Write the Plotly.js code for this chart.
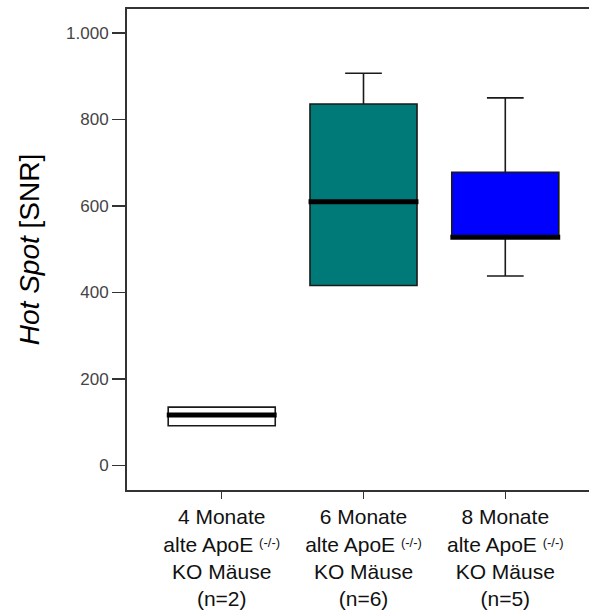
<!DOCTYPE html>
<html>
<head>
<meta charset="utf-8">
<script src="https://cdn.plot.ly/plotly-3.0.1.min.js"></script>
<style>
html, body { margin: 0; padding: 0; overflow: hidden; background: #ffffff; }
#chart { width: 620px; height: 615px; }
</style>
</head>
<body>
<div id="chart"></div>
<script>
// ---- data ----
const categories = [
  "4 Monate<br>alte ApoE <span style=\"font-size:13px;baseline-shift:5px\">(-/-)</span><br>KO Mäuse<br>(n=2)",
  "6 Monate<br>alte ApoE <span style=\"font-size:13px;baseline-shift:5px\">(-/-)</span><br>KO Mäuse<br>(n=6)",
  "8 Monate<br>alte ApoE <span style=\"font-size:13px;baseline-shift:5px\">(-/-)</span><br>KO Mäuse<br>(n=5)"
];
const q1Values     = [92, 416, 528];
const medianValues = [117, 610, 528];
const q3Values     = [135, 836, 678];
const lowerWhisker = [92, 416, 438];
const upperWhisker = [135, 907, 850];
const boxColors    = ["#ffffff", "#007a78", "#0000ff"];
const yTickValues  = [0, 200, 400, 600, 800, 1000];
const yTickLabels  = ["0", "200", "400", "600", "800", "1.000"];

// ---- styling ----
const FONT = "Liberation Sans, Arial, sans-serif";
const boxWidth = 0.755;
const positions = categories.map((_, i) => i);

const traces = categories.map((c, i) => ({
  type: "box",
  x: [positions[i]],
  q1: [q1Values[i]],
  median: [medianValues[i]],
  q3: [q3Values[i]],
  lowerfence: [lowerWhisker[i]],
  upperfence: [upperWhisker[i]],
  width: boxWidth,
  whiskerwidth: 0.343,
  fillcolor: boxColors[i],
  line: { color: "#1a1a1a", width: 1.6 },
  hoverinfo: "skip",
  showlegend: false
}));

// thick median bars
const mx = [], my = [];
positions.forEach((p, i) => {
  mx.push(p - boxWidth / 2 - 0.01, p + boxWidth / 2 + 0.01, null);
  my.push(medianValues[i], medianValues[i], null);
});
traces.push({
  type: "scatter",
  mode: "lines",
  x: mx,
  y: my,
  line: { color: "#000000", width: 5 },
  hoverinfo: "skip",
  showlegend: false
});

const layout = {
  width: 620,
  height: 615,
  margin: { l: 127, r: 20.3, t: 9.3, b: 125 },
  paper_bgcolor: "#ffffff",
  plot_bgcolor: "#ffffff",
  font: { family: FONT, color: "#000000" },
  xaxis: {
    type: "linear",
    range: [-0.668, 2.668],
    tickvals: positions,
    ticktext: categories,
    ticks: "outside",
    ticklen: 7,
    tickwidth: 1.5,
    tickcolor: "#333333",
    showline: true,
    linecolor: "#333333",
    linewidth: 2,
    mirror: true,
    showgrid: false,
    zeroline: false,
    tickfont: { family: FONT, size: 21, color: "#111111" },
    fixedrange: true
  },
  yaxis: {
    range: [-56.7, 1055.5],
    tickvals: yTickValues,
    ticktext: yTickLabels,
    ticks: "outside",
    ticklen: 13,
    tickwidth: 1.5,
    tickcolor: "#333333",
    showline: true,
    linecolor: "#333333",
    linewidth: 2,
    mirror: true,
    showgrid: false,
    zeroline: false,
    tickfont: { family: FONT, size: 17, color: "#444444" },
    title: {
      text: "<i>Hot Spot</i> [SNR]",
      font: { family: FONT, size: 28, color: "#000000" },
      standoff: 18
    },
    fixedrange: true
  }
};

Plotly.newPlot("chart", traces, layout, { displayModeBar: false, staticPlot: true });
</script>
</body>
</html>
